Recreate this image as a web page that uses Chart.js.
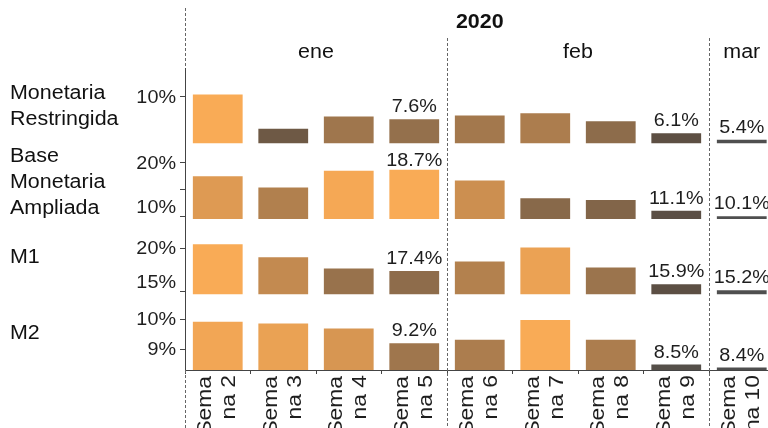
<!DOCTYPE html>
<html lang="es">
  <head>
    <meta charset="UTF-8" />
    <title>Agregados monetarios 2020</title>
    <script src="https://cdn.jsdelivr.net/npm/chart.js"></script>
    <style>
      html,
      body {
        margin: 0;
        padding: 0;
        background: #fff;
        overflow: hidden;
      }
      /* canvas is a bit wider than the window: the last column is cut off like in the original */
      #wrap {
        position: relative;
        width: 790px;
        height: 428px;
      }
    </style>
  </head>
  <body>
    <div id="wrap"><canvas id="chart" width="790" height="428"></canvas></div>

    <script>
      // categories
      const weeks = [
        "Semana 2", "Semana 3", "Semana 4", "Semana 5",
        "Semana 6", "Semana 7", "Semana 8", "Semana 9",
        "Semana 10",
      ];
      const months = ["ene", "ene", "ene", "ene", "feb", "feb", "feb", "feb", "mar"];
      const year = "2020";
      const rowNames = ["Monetaria Restringida", "Base Monetaria Ampliada", "M1", "M2"];

      // series values (% a/a)
      const monetariaRestringida = [10.26, 6.57, 7.9, 7.6, 8.0, 8.25, 7.4, 6.1, 5.4];
      const baseMonetariaAmpliada = [17.5, 15.4, 18.5, 18.7, 16.7, 13.4, 13.1, 11.1, 10.1];
      const m1 = [20.5, 19.0, 17.7, 17.4, 18.5, 20.1, 17.8, 15.9, 15.2];
      const m2 = [9.91, 9.85, 9.69, 9.2, 9.32, 9.97, 9.32, 8.5, 8.4];

      // tick labels per row
      const yTicks = [[10], [10, 15, 20], [15, 20], [9, 10]];
      const yTickLabels = [["10%"], ["10%", "", "20%"], ["15%", "20%"], ["9%", "10%"]];
      const axisMin = [5.0, 9.57, 14.71, 8.32];
      const axisMax = [13.1, 23.55, 23.39, 10.81];

      const series = [monetariaRestringida, baseMonetariaAmpliada, m1, m2];

      const textColor = "#1e1e1e";
      const fontFamily = '"Liberation Sans", Arial, sans-serif';
      Chart.defaults.font.family = fontFamily;
      Chart.defaults.color = textColor;

      // the original font is a bit wider than Arial
      const stretch = 1.1;

      // dark grey -> brown -> orange, by position of the value inside its row
      const colorStops = [
        [0, [79, 79, 79]],
        [0.15, [94, 79, 66]],
        [0.45, [148, 112, 76]],
        [0.75, [201, 141, 80]],
        [1, [249, 171, 86]],
      ];
      function barColor(v, vals) {
        const lo = Math.min(...vals);
        const hi = Math.max(...vals);
        const t = (v - lo) / (hi - lo);
        for (let k = 1; k < colorStops.length; k++) {
          if (t <= colorStops[k][0]) {
            const [t0, c0] = colorStops[k - 1];
            const [t1, c1] = colorStops[k];
            const f = (t - t0) / (t1 - t0);
            const c = c0.map((a, j) => Math.round(a + (c1[j] - a) * f));
            return `rgb(${c[0]}, ${c[1]}, ${c[2]})`;
          }
        }
        return "rgb(249, 171, 86)";
      }

      // last week of each month gets a value label
      const labelled = months.map((m, i) => i === months.length - 1 || months[i + 1] !== m);

      const scales = {
        x: {
          type: "category",
          offset: true,
          grid: {
            offset: true,
            drawOnChartArea: false,
            drawTicks: true,
            tickLength: 4,
            color: "#444",
          },
          border: { display: true, color: "#444", width: 1 },
          ticks: { display: false, autoSkip: false },
          afterFit: (s) => {
            s.height = 58;
          },
        },
      };
      // added bottom row first: left boxes are laid out in reverse order
      for (let i = series.length - 1; i >= 0; i--) {
        scales["y" + i] = {
          type: "linear",
          position: "left",
          stack: "rows",
          stackWeight: 1,
          min: axisMin[i],
          max: axisMax[i],
          grid: { drawOnChartArea: false, drawTicks: true, tickLength: 5, color: "#444" },
          border: { display: true, color: "#444", width: 1 },
          ticks: { display: false },
          afterBuildTicks: (s) => {
            s.ticks = yTicks[i].map((v) => ({ value: v }));
          },
          afterFit: (s) => {
            s.width = 185;
          },
        };
      }

      function dashed(ctx, x, y1, y2) {
        const px = Math.round(x) + 0.5;
        ctx.beginPath();
        ctx.moveTo(px, y1);
        ctx.lineTo(px, y2);
        ctx.stroke();
      }

      // text drawn a little wider, optionally rotated
      function text(ctx, str, x, y, sx, angle) {
        ctx.save();
        ctx.translate(x, y);
        if (angle) ctx.rotate(angle);
        ctx.scale(sx, 1);
        ctx.fillText(str, 0, 0);
        ctx.restore();
      }

      const decorations = {
        id: "decorations",
        afterDraw(chart) {
          const ctx = chart.ctx;
          const area = chart.chartArea;
          const xs = chart.scales.x;
          const colW = (area.right - area.left) / weeks.length;
          ctx.save();

          // separators
          ctx.strokeStyle = "#666";
          ctx.lineWidth = 1;
          ctx.setLineDash([3, 2]);
          dashed(ctx, area.left, 8, area.top);
          dashed(ctx, area.left, area.bottom, chart.height);
          months.forEach((m, i) => {
            if (i > 0 && months[i - 1] !== m) dashed(ctx, area.left + i * colW, 38, chart.height);
          });
          ctx.setLineDash([]);

          // year and month headers
          ctx.fillStyle = "#111";
          ctx.textAlign = "center";
          ctx.textBaseline = "middle";
          ctx.font = `bold 19.5px ${fontFamily}`;
          text(ctx, year, (area.left + area.right) / 2, 23, stretch);
          ctx.font = `19.5px ${fontFamily}`;
          let start = 0;
          months.forEach((m, i) => {
            if (i === months.length - 1 || months[i + 1] !== m) {
              text(ctx, m, area.left + ((start + i + 1) / 2) * colW, 53, stretch);
              start = i + 1;
            }
          });

          // week labels, two lines, rotated
          ctx.fillStyle = textColor;
          ctx.textAlign = "right";
          ctx.font = `19.5px ${fontFamily}`;
          weeks.forEach((w, i) => {
            const cx = xs.getPixelForValue(i);
            text(ctx, w.slice(0, 4), cx - 12, area.bottom + 6, 1.17, -Math.PI / 2);
            text(ctx, w.slice(4), cx + 12, area.bottom + 5, 1.17, -Math.PI / 2);
          });

          // row names, y tick labels, value labels
          series.forEach((vals, r) => {
            const ys = chart.scales["y" + r];
            const mid = (ys.top + ys.bottom) / 2;
            const lines = rowNames[r].split(" ");
            ctx.fillStyle = "#111";
            ctx.textAlign = "left";
            ctx.textBaseline = "middle";
            ctx.font = `19.5px ${fontFamily}`;
            lines.forEach((ln, k) => {
              text(ctx, ln, 10, mid + 1 + (k - (lines.length - 1) / 2) * 26, stretch);
            });

            ctx.fillStyle = textColor;
            ctx.textAlign = "right";
            ctx.font = `18px ${fontFamily}`;
            yTicks[r].forEach((v, k) => {
              const py = Math.min(ys.getPixelForValue(v), ys.bottom - 12);
              text(ctx, yTickLabels[r][k], ys.right - 9, py + 1, stretch);
            });

            ctx.textAlign = "center";
            ctx.textBaseline = "alphabetic";
            ctx.font = `18px ${fontFamily}`;
            vals.forEach((v, i) => {
              if (!labelled[i]) return;
              const top = ys.getPixelForValue(v);
              const y = Math.max(top - 7, ys.top + 22);
              text(ctx, v.toFixed(1) + "%", area.left + (i + 0.5) * colW, y, stretch);
            });
          });
          ctx.restore();
        },
      };

      new Chart(document.getElementById("chart"), {
        type: "bar",
        data: {
          labels: weeks,
          datasets: series.map((vals, i) => ({
            label: rowNames[i],
            data: vals,
            xAxisID: "x",
            yAxisID: "y" + i,
            base: axisMin[i],
            grouped: false,
            backgroundColor: vals.map((v) => barColor(v, vals)),
            borderWidth: 0,
            barPercentage: 0.76,
            categoryPercentage: 1,
          })),
        },
        options: {
          responsive: false,
          animation: false,
          layout: { padding: { left: 0, top: 68, right: 15.5, bottom: 0 } },
          plugins: {
            legend: { display: false },
            tooltip: { enabled: false },
          },
          scales: scales,
        },
        plugins: [decorations],
      });
    </script>
  </body>
</html>
